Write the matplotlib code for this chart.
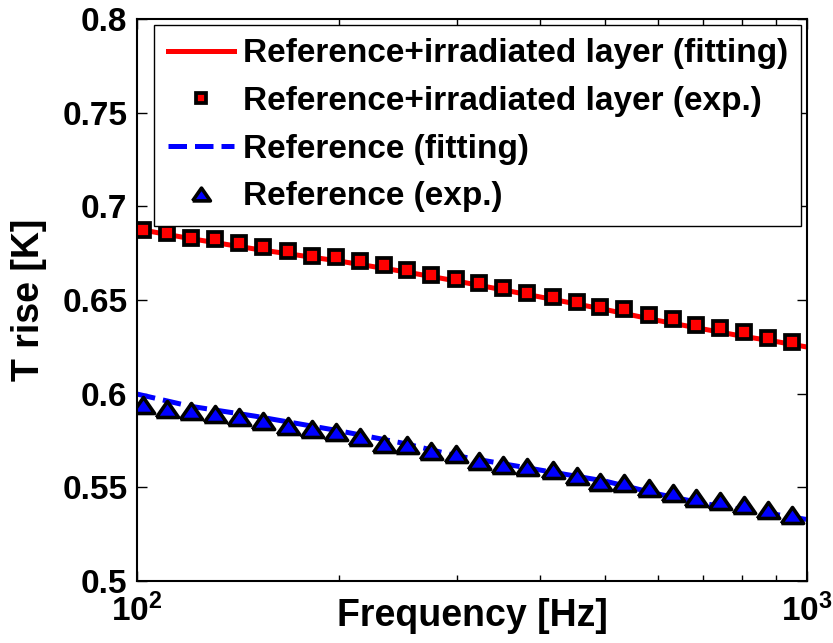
import matplotlib
matplotlib.use('Agg')
import matplotlib.pyplot as plt
from matplotlib.ticker import NullFormatter

plt.rcParams['font.family'] = ['Liberation Sans', 'DejaVu Sans']
plt.rcParams['font.weight'] = 'bold'
plt.rcParams['mathtext.fontset'] = 'custom'
plt.rcParams['mathtext.rm'] = 'Liberation Sans:bold'
plt.rcParams['mathtext.bf'] = 'Liberation Sans:bold'
plt.rcParams['mathtext.default'] = 'bf'

# measured points [Hz]
freq = [102.0, 110.7, 120.4, 130.7, 141.8, 154.0, 168.0, 182.3, 198.0, 215.0,
        233.7, 252.9, 274.7, 298.8, 323.9, 351.8, 382.1, 417.4, 453.3, 491.5,
        532.6, 580.3, 630.3, 683.7, 742.3, 805.4, 875.5, 949.8]
t_irr_exp = [0.6873, 0.6857, 0.6833, 0.6823, 0.6806, 0.6781, 0.6763, 0.6736, 0.6727, 0.6709,
             0.6685, 0.6660, 0.6633, 0.6613, 0.6589, 0.6562, 0.6535, 0.6517, 0.6490, 0.6464,
             0.6450, 0.6419, 0.6396, 0.6368, 0.6348, 0.6327, 0.6298, 0.6274]
t_ref_exp = [0.5939, 0.5918, 0.5907, 0.5892, 0.5875, 0.5852, 0.5826, 0.5812, 0.5795, 0.5767,
             0.5732, 0.5724, 0.5696, 0.5678, 0.5643, 0.5620, 0.5608, 0.5593, 0.5558, 0.5531,
             0.5521, 0.5494, 0.5469, 0.5442, 0.5425, 0.5406, 0.5380, 0.5353]

# fitted curves
freq_fit = [100, 120, 150, 200, 250, 300, 400, 500, 600, 700, 800, 900, 1000]
t_irr_fit = [0.6879, 0.6828, 0.6772, 0.6708, 0.6652, 0.6601, 0.6516, 0.6449, 0.6390,
             0.6345, 0.6307, 0.6278, 0.6249]
t_ref_fit = [0.5998, 0.5933, 0.5880, 0.5802, 0.5735, 0.5668, 0.5592, 0.5533, 0.5464,
             0.5414, 0.5382, 0.5355, 0.5328]

yticks = [0.5, 0.55, 0.6, 0.65, 0.7, 0.75, 0.8]
ytick_labels = ['0.5', '0.55', '0.6', '0.65', '0.7', '0.75', '0.8']

labels = ['Reference+irradiated layer (fitting)',
          'Reference+irradiated layer (exp.)',
          'Reference (fitting)',
          'Reference (exp.)']

# wide, flat triangle marker
tri = [(-1.0, -0.72), (1.0, -0.72), (0.0, 0.72), (-1.0, -0.72)]

fig = plt.figure(figsize=(8.33, 6.43), dpi=100)
ax = fig.add_axes([0.1645, 0.0964, 0.8043, 0.8741])

ax.plot(freq_fit, t_irr_fit, color='red', lw=3.6, label=labels[0])
ax.plot(freq, t_irr_exp, ls='none', marker='s', ms=9.6, mfc='red', mec='black',
        mew=2.7, label=labels[1])
ax.plot(freq_fit, t_ref_fit, color='blue', lw=3.6, ls='--', label=labels[2])
ax.plot(freq, t_ref_exp, ls='none', marker=tri, ms=16, mfc='blue', mec='black',
        mew=2.6, label=labels[3])

ax.set_xscale('log')
ax.set_xlim(100, 1000)
ax.set_ylim(0.5, 0.8)
ax.set_xticks([100, 1000])
ax.set_xticklabels([r'$\mathbf{10^{2}}$', r'$\mathbf{10^{3}}$'])
ax.xaxis.set_minor_formatter(NullFormatter())
ax.set_yticks(yticks)
ax.set_yticklabels(ytick_labels)

ax.tick_params(which='both', direction='in', top=True, right=True, width=1, labelsize=24)
ax.tick_params(which='major', length=7)
ax.tick_params(which='minor', length=4)
ax.tick_params(axis='y', pad=7)
ax.tick_params(axis='x', pad=9)
for s in ax.spines.values():
    s.set_linewidth(1.5)

ax.set_xlabel('Frequency [Hz]', fontsize=27, fontweight='bold')
ax.set_ylabel('T rise [K]', fontsize=27, fontweight='bold')
ax.xaxis.set_label_coords(0.5, -0.03)
ax.yaxis.set_label_coords(-0.135, 0.5)

leg = ax.legend(loc='upper right', fontsize=24, fancybox=False, edgecolor='black',
                framealpha=1, borderaxespad=0.18, handlelength=2.0, handletextpad=0.25,
                labelspacing=0.5, borderpad=0.4, markerscale=0.8)
leg.get_frame().set_linewidth(1.0)

fig.savefig('out.png', dpi=100)
